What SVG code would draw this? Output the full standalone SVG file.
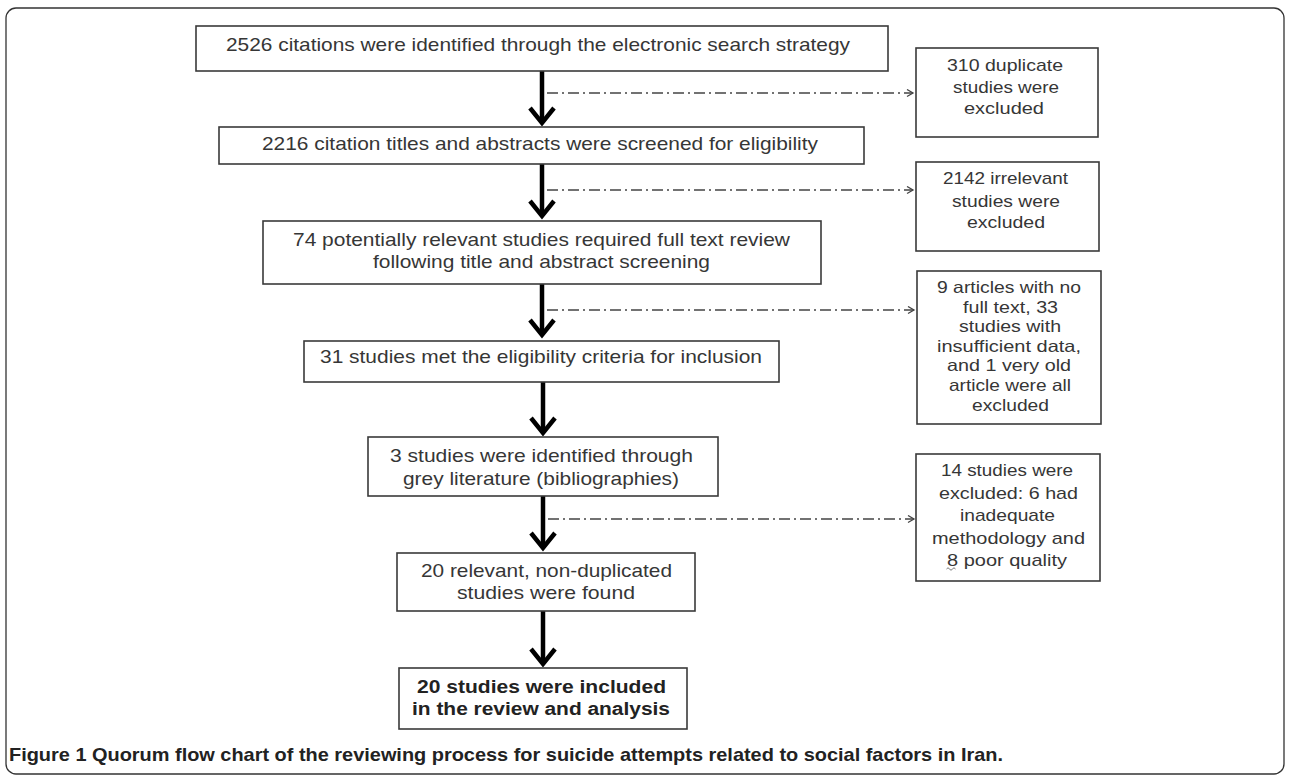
<svg xmlns="http://www.w3.org/2000/svg" width="1289" height="775" viewBox="0 0 1289 775">
<style>
.box{fill:#fff;stroke:#3a3a3a;stroke-width:1.6}
.t{font-family:"Liberation Sans",Arial,sans-serif;font-size:18.5px;fill:#363636}
.s{font-family:"Liberation Sans",Arial,sans-serif;font-size:17px;fill:#363636}
.s2{font-family:"Liberation Sans",Arial,sans-serif;font-size:16.5px;fill:#363636}
.b{font-family:"Liberation Sans",Arial,sans-serif;font-size:18px;font-weight:bold;fill:#222}
.shaft{stroke:#000;stroke-width:4.5;fill:none}
.head{stroke:#000;stroke-width:4.5;fill:none;stroke-linejoin:miter;stroke-linecap:butt}
.dash{stroke:#444;stroke-width:1.3;fill:none;stroke-dasharray:11 4 2 4}
.cap{font-family:"Liberation Sans",Arial,sans-serif;font-size:19px;font-weight:bold;fill:#222}
</style>
<defs>
<marker id="sm" markerUnits="userSpaceOnUse" markerWidth="10" markerHeight="10" refX="7" refY="4" orient="auto">
<path d="M1,0.5 L7,4 L1,7.5" fill="none" stroke="#444" stroke-width="1.3"/>
</marker>
</defs>
<rect x="6" y="8" width="1278" height="766" rx="10" fill="#fff" stroke="#333" stroke-width="1.3"/>

<g id="connectors">
<line class="shaft" x1="542" y1="71" x2="542" y2="122"/>
<polyline class="head" points="530,108 542,123 554,108"/>
<line class="shaft" x1="542" y1="164" x2="542" y2="215"/>
<polyline class="head" points="530,201 542,216 554,201"/>
<line class="shaft" x1="542" y1="284" x2="542" y2="334"/>
<polyline class="head" points="530,320 542,335 554,320"/>
<line class="shaft" x1="543" y1="382" x2="543" y2="432"/>
<polyline class="head" points="531,418 543,433 555,418"/>
<line class="shaft" x1="543" y1="496" x2="543" y2="547"/>
<polyline class="head" points="531,533 543,548 555,533"/>
<line class="shaft" x1="543" y1="611" x2="543" y2="663"/>
<polyline class="head" points="531,649 543,664 555,649"/>
<line class="dash" x1="547" y1="93" x2="913" y2="93" marker-end="url(#sm)"/>
<line class="dash" x1="547" y1="190" x2="913" y2="190" marker-end="url(#sm)"/>
<line class="dash" x1="547" y1="310" x2="914" y2="310" marker-end="url(#sm)"/>
<line class="dash" x1="548" y1="519" x2="914" y2="519" marker-end="url(#sm)"/>
</g>

<g id="n1">
<rect class="box" x="196" y="26" width="692" height="45"/>
<text class="t" x="226" y="51" textLength="624" lengthAdjust="spacingAndGlyphs">2526 citations were identified through the electronic search strategy</text>
</g>
<g id="n2">
<rect class="box" x="219" y="127" width="645" height="37"/>
<text class="t" x="262" y="150" textLength="556" lengthAdjust="spacingAndGlyphs">2216 citation titles and abstracts were screened for eligibility</text>
</g>
<g id="n3">
<rect class="box" x="263" y="221" width="558" height="63"/>
<text class="t" x="293" y="246" textLength="497" lengthAdjust="spacingAndGlyphs">74 potentially relevant studies required full text review</text>
<text class="t" x="373" y="268" textLength="337" lengthAdjust="spacingAndGlyphs">following title and abstract screening</text>
</g>
<g id="n4">
<rect class="box" x="304" y="341" width="475" height="41"/>
<text class="t" x="320" y="363" textLength="442" lengthAdjust="spacingAndGlyphs">31 studies met the eligibility criteria for inclusion</text>
</g>
<g id="n5">
<rect class="box" x="368" y="437" width="350" height="59"/>
<text class="t" x="390" y="462" textLength="303" lengthAdjust="spacingAndGlyphs">3 studies were identified through</text>
<text class="t" x="403" y="485" textLength="276" lengthAdjust="spacingAndGlyphs">grey literature (bibliographies)</text>
</g>
<g id="n6">
<rect class="box" x="397" y="553" width="298" height="58"/>
<text class="t" x="421" y="577" textLength="251" lengthAdjust="spacingAndGlyphs">20 relevant, non-duplicated</text>
<text class="t" x="457" y="599" textLength="178" lengthAdjust="spacingAndGlyphs">studies were found</text>
</g>
<g id="n7">
<rect class="box" x="399" y="668" width="288" height="61"/>
<text class="b" x="417" y="693" textLength="249" lengthAdjust="spacingAndGlyphs">20 studies were included</text>
<text class="b" x="412" y="715" textLength="258" lengthAdjust="spacingAndGlyphs">in the review and analysis</text>
</g>

<g id="x1">
<rect class="box" x="916" y="48" width="182" height="89"/>
<text class="s" x="947" y="71" textLength="116" lengthAdjust="spacingAndGlyphs">310 duplicate</text>
<text class="s" x="953" y="93" textLength="106" lengthAdjust="spacingAndGlyphs">studies were</text>
<text class="s" x="964" y="114" textLength="80" lengthAdjust="spacingAndGlyphs">excluded</text>
</g>
<g id="x2">
<rect class="box" x="916" y="162" width="183" height="89"/>
<text class="s" x="943" y="184" textLength="125" lengthAdjust="spacingAndGlyphs">2142 irrelevant</text>
<text class="s" x="952" y="207" textLength="108" lengthAdjust="spacingAndGlyphs">studies were</text>
<text class="s" x="967" y="228" textLength="78" lengthAdjust="spacingAndGlyphs">excluded</text>
</g>
<g id="x3">
<rect class="box" x="917" y="271" width="184" height="153"/>
<text class="s2" x="937" y="293" textLength="144" lengthAdjust="spacingAndGlyphs">9 articles with no</text>
<text class="s2" x="963" y="312.6" textLength="95" lengthAdjust="spacingAndGlyphs">full text, 33</text>
<text class="s2" x="959" y="332.2" textLength="102" lengthAdjust="spacingAndGlyphs">studies with</text>
<text class="s2" x="937" y="351.8" textLength="144" lengthAdjust="spacingAndGlyphs">insufficient data,</text>
<text class="s2" x="947" y="371.4" textLength="124" lengthAdjust="spacingAndGlyphs">and 1 very old</text>
<text class="s2" x="949" y="391" textLength="122" lengthAdjust="spacingAndGlyphs">article were all</text>
<text class="s2" x="972" y="410.6" textLength="77" lengthAdjust="spacingAndGlyphs">excluded</text>
</g>
<g id="x4">
<rect class="box" x="916" y="454" width="184" height="127"/>
<text class="s" x="941" y="476" textLength="132" lengthAdjust="spacingAndGlyphs">14 studies were</text>
<text class="s" x="939" y="498.5" textLength="139" lengthAdjust="spacingAndGlyphs">excluded: 6 had</text>
<text class="s" x="960" y="521" textLength="95" lengthAdjust="spacingAndGlyphs">inadequate</text>
<text class="s" x="932" y="543.5" textLength="153" lengthAdjust="spacingAndGlyphs">methodology and</text>
<text class="s" x="947" y="566" textLength="120" lengthAdjust="spacingAndGlyphs">8 poor quality</text>
<path d="M946.5,569 q1.5,-2.5 3,0 t3,0 t3,0" fill="none" stroke="#666" stroke-width="0.9"/>
</g>

<text class="cap" x="9" y="761" textLength="994" lengthAdjust="spacingAndGlyphs">Figure 1<tspan font-weight="600"> Quorum flow chart of the reviewing process for suicide attempts related to social factors in Iran.</tspan></text>
</svg>
